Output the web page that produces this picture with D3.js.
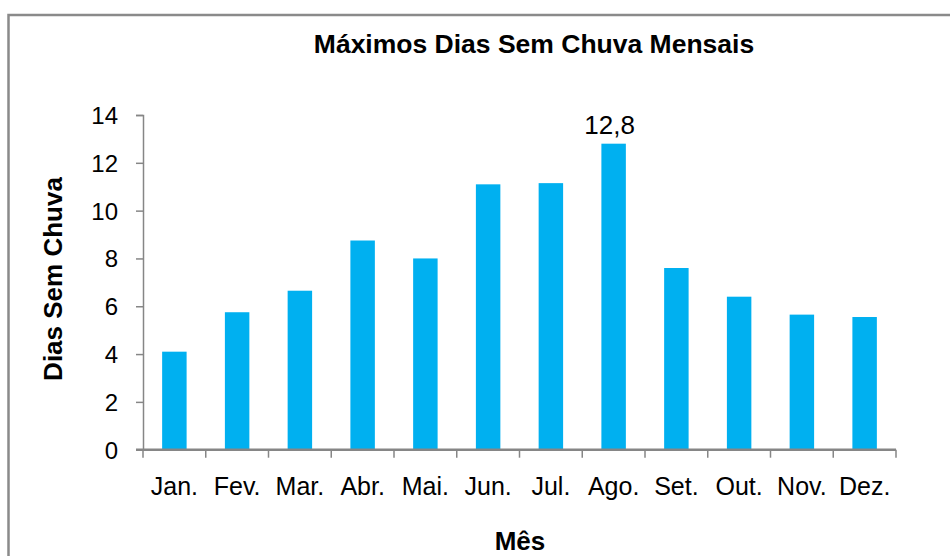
<!DOCTYPE html>
<html>
<head>
<meta charset="utf-8">
<script src="https://cdn.jsdelivr.net/npm/d3@7"></script>
<style>
  html, body { margin: 0; padding: 0; background: #fff; }
  svg { display: block; font-family: "Liberation Sans", Arial, sans-serif; }
</style>
</head>
<body>
<svg id="chart" width="950" height="556"></svg>
<script>
const months = ["Jan.", "Fev.", "Mar.", "Abr.", "Mai.", "Jun.", "Jul.", "Ago.", "Set.", "Out.", "Nov.", "Dez."];
const maxDryDays = [4.1, 5.75, 6.65, 8.75, 8.0, 11.1, 11.15, 12.8, 7.6, 6.4, 5.65, 5.55];
const yTicks = [0, 2, 4, 6, 8, 10, 12, 14];
const labeledMonths = ["Ago."];
const titleText = "Máximos Dias Sem Chuva Mensais";
const yTitle = "Dias Sem Chuva";
const xTitle = "Mês";

(function () {
const svg = d3.select("#chart");
const axisColor = "#868686";

// outer frame (extends beyond the visible area on right/bottom)
svg.append("rect")
  .attr("x", 8.5).attr("y", 15)
  .attr("width", 1000).attr("height", 600)
  .attr("fill", "#fff")
  .attr("stroke", "#8a8a8a")
  .attr("stroke-width", 2.5);

const pL = 143, pR = 896, pT = 115, pB = 449.7;

const x = d3.scaleBand().domain(months).range([pL, pR])
  .paddingInner(0.61).paddingOuter(0.305);
const y = d3.scaleLinear().domain([0, 14]).range([pB, pT]);

// bars
svg.append("g").selectAll("rect")
  .data(months)
  .join("rect")
  .attr("x", (d) => x(d))
  .attr("width", x.bandwidth())
  .attr("y", (d, i) => y(maxDryDays[i]))
  .attr("height", (d, i) => y(0) - y(maxDryDays[i]))
  .attr("fill", "#00B0F0");

// y axis
const yAxis = svg.append("g")
  .attr("transform", `translate(${pL},0)`)
  .call(d3.axisLeft(y).tickValues(yTicks).tickSize(7).tickPadding(18)
    .tickFormat(d3.format("d")));
yAxis.select(".domain").attr("stroke", axisColor).attr("stroke-width", 1.5);
yAxis.selectAll(".tick line").attr("stroke", axisColor).attr("stroke-width", 1.5);
yAxis.selectAll(".tick text")
  .attr("fill", "#000")
  .style("font-size", "24px")
  .attr("dy", "0.35em");

// x axis
const xAxis = svg.append("g")
  .attr("transform", `translate(0,${pB})`)
  .call(d3.axisBottom(x).tickSize(0).tickPadding(28));
xAxis.select(".domain").remove();
xAxis.selectAll(".tick text")
  .attr("fill", "#000")
  .style("font-size", "25px");

const gap = (x.step() - x.bandwidth()) / 2;
const bounds = months.map((d) => x(d) - gap).concat([x(months[months.length - 1]) + x.bandwidth() + gap]);
xAxis.append("g").selectAll("line")
  .data(bounds)
  .join("line")
  .attr("x1", (d) => d).attr("x2", (d) => d)
  .attr("y1", 0).attr("y2", 8)
  .attr("stroke", axisColor).attr("stroke-width", 1.5);
xAxis.append("line")
  .attr("x1", pL - 7).attr("x2", pR)
  .attr("y1", 0).attr("y2", 0)
  .attr("stroke", axisColor).attr("stroke-width", 2.5);

// data label
svg.append("g").selectAll("text")
  .data(months.filter((d) => labeledMonths.includes(d)))
  .join("text")
  .attr("x", (d) => x(d) + x.bandwidth() / 2 - 4)
  .attr("y", (d) => y(maxDryDays[months.indexOf(d)]) - 10)
  .attr("text-anchor", "middle")
  .style("font-size", "26px")
  .text((d) => d3.format(".1f")(maxDryDays[months.indexOf(d)]).replace(".", ","));

// titles
svg.append("text")
  .attr("x", 534).attr("y", 53)
  .attr("text-anchor", "middle")
  .style("font-size", "26.5px").style("font-weight", "bold")
  .text(titleText);

svg.append("text")
  .attr("transform", `translate(62,279) rotate(-90)`)
  .attr("text-anchor", "middle")
  .style("font-size", "26px").style("font-weight", "bold")
  .text(yTitle);

svg.append("text")
  .attr("x", 520).attr("y", 550)
  .attr("text-anchor", "middle")
  .style("font-size", "26px").style("font-weight", "bold")
  .text(xTitle);
})();
</script>
</body>
</html>
